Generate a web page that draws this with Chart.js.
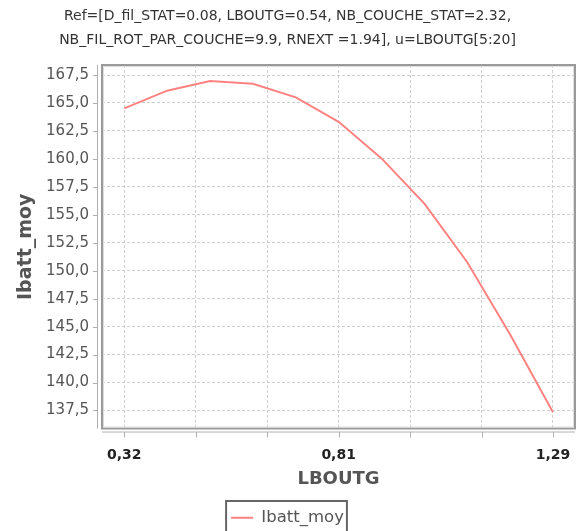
<!DOCTYPE html>
<html>
<head>
<meta charset="utf-8">
<script src="https://cdn.jsdelivr.net/npm/chart.js@4.4.1/dist/chart.umd.min.js"></script>
<style>
  html, body { margin: 0; padding: 0; background: #fff; }
  #wrap { width: 578px; height: 531px; position: relative; }
</style>
</head>
<body>
<div id="wrap"><canvas id="ibattChart" width="578" height="531"></canvas></div>
<script>
// values
const lboutg = [0.32, 0.417, 0.514, 0.611, 0.708, 0.805, 0.902, 0.999, 1.096, 1.193, 1.29];
const ibattMoy = [164.52, 166.1, 166.96, 166.72, 165.5, 163.32, 160.04, 156.0, 150.76, 144.3, 137.35];

const xGridValues = [0.32, 0.4817, 0.6433, 0.805, 0.9667, 1.1283, 1.29];
const xTickLabels = ['0,32', '', '', '0,81', '', '', '1,29'];
const yTickValues = [137.5, 140, 142.5, 145, 147.5, 150, 152.5, 155, 157.5, 160, 162.5, 165, 167.5];

const titleLines = [
    'Ref=[D_fil_STAT=0.08, LBOUTG=0.54, NB_COUCHE_STAT=2.32,',
    'NB_FIL_ROT_PAR_COUCHE=9.9, RNEXT =1.94], u=LBOUTG[5:20]'
];

const FONT = "'DejaVu Sans', Verdana, sans-serif";

// plot frame, detached axis lines and the legend border
const decorations = {
    id: 'decorations',
    beforeDatasetsDraw(chart) {
        const { ctx, chartArea: a, scales } = chart;
        ctx.save();
        // y axis line, left of the frame
        ctx.strokeStyle = '#b0b0b0';
        ctx.lineWidth = 1;
        ctx.beginPath();
        ctx.moveTo(97.5, a.top);
        ctx.lineTo(97.5, a.bottom);
        scales.y.ticks.forEach(t => {
            const py = Math.round(scales.y.getPixelForValue(t.value)) + 0.5;
            ctx.moveTo(93, py);
            ctx.lineTo(97.5, py);
        });
        // x axis line, under the frame
        ctx.moveTo(a.left, a.bottom + 3.5);
        ctx.lineTo(a.right, a.bottom + 3.5);
        scales.x.ticks.forEach(t => {
            const px = Math.round(scales.x.getPixelForValue(t.value)) + 0.5;
            ctx.moveTo(px, a.bottom + 3.5);
            ctx.lineTo(px, a.bottom + 9);
        });
        ctx.stroke();
        // frame
        ctx.strokeStyle = '#9a9a9a';
        ctx.lineWidth = 2;
        ctx.strokeRect(a.left, a.top, a.right - a.left, a.bottom - a.top);
        ctx.strokeStyle = '#dedede';
        ctx.lineWidth = 1;
        ctx.strokeRect(a.left + 1.5, a.top + 1.5, a.right - a.left - 3, a.bottom - a.top - 3);
        ctx.restore();
    },
    afterDraw(chart) {
        const boxes = chart.legend && chart.legend.legendHitBoxes;
        if (!boxes || !boxes.length) {
            return;
        }
        const b = boxes[0];
        const ctx = chart.ctx;
        ctx.save();
        ctx.strokeStyle = '#666';
        ctx.lineWidth = 2;
        ctx.strokeRect(b.left - 5, 501, b.width + 8, 40);
        ctx.restore();
    }
};

new Chart(document.getElementById('ibattChart'), {
    type: 'line',
    data: {
        datasets: [{
            label: 'Ibatt_moy',
            data: lboutg.map((x, i) => ({ x: x, y: ibattMoy[i] })),
            borderColor: '#ff8282',
            backgroundColor: '#ff8282',
            borderWidth: 2,
            pointRadius: 0,
            tension: 0,
            fill: false
        }]
    },
    options: {
        responsive: false,
        animation: false,
        layout: { padding: { left: 0, right: 3, top: 0, bottom: -5 } },
        plugins: {
            title: {
                display: true,
                text: titleLines,
                color: '#333',
                font: { family: FONT, size: 14, weight: 'normal', lineHeight: '24px' },
                padding: { top: 4, bottom: 13 }
            },
            legend: {
                position: 'bottom',
                labels: {
                    usePointStyle: true,
                    pointStyle: 'line',
                    pointStyleWidth: 22,
                    color: '#555',
                    font: { family: FONT, size: 16.5 },
                    padding: 6
                }
            },
            tooltip: { enabled: false }
        },
        scales: {
            x: {
                type: 'linear',
                min: 0.2695,
                max: 1.3398,
                afterBuildTicks: scale => {
                    scale.ticks = xGridValues.map(v => ({ value: v }));
                },
                afterFit: scale => {
                    scale.height = 75;
                    scale.paddingLeft = 0;
                    scale.paddingRight = 0;
                },
                grid: {
                    color: '#cfcfcf',
                    drawTicks: false
                },
                border: { display: false, dash: [3, 2] },
                ticks: {
                    autoSkip: false,
                    maxRotation: 0,
                    padding: 18,
                    color: '#222',
                    font: { family: FONT, size: 14, weight: 'bold' },
                    callback: (value, index) => xTickLabels[index]
                },
                title: {
                    display: true,
                    text: 'LBOUTG',
                    color: '#555',
                    font: { family: FONT, size: 18, weight: 'bold' },
                    padding: { top: 13, bottom: 13 }
                }
            },
            y: {
                min: 135.888,
                max: 168.396,
                afterBuildTicks: scale => {
                    scale.ticks = yTickValues.map(v => ({ value: v }));
                },
                afterFit: scale => { scale.width = 102; },
                grid: {
                    color: '#cfcfcf',
                    drawTicks: false
                },
                border: { display: false, dash: [3, 2] },
                ticks: {
                    padding: 13,
                    color: '#555',
                    font: { family: FONT, size: 15 },
                    callback: value => value.toFixed(1).replace('.', ',')
                },
                title: {
                    display: true,
                    text: 'Ibatt_moy',
                    color: '#555',
                    font: { family: FONT, size: 19, weight: 'bold' },
                    padding: { top: 15, bottom: 15 }
                }
            }
        }
    },
    plugins: [decorations]
});
</script>
</body>
</html>
